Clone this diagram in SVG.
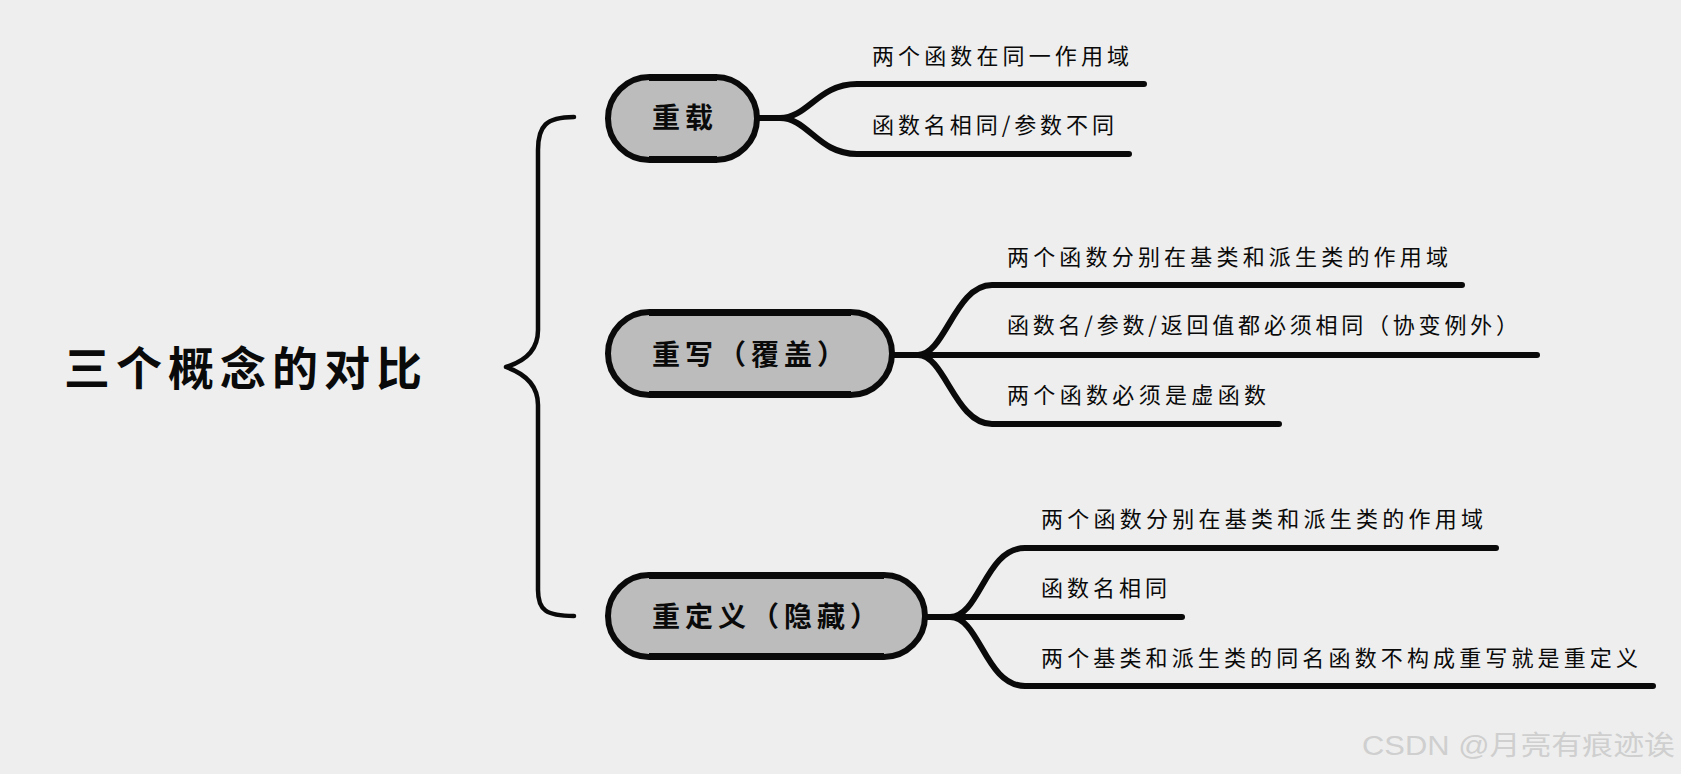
<svg xmlns="http://www.w3.org/2000/svg" width="1681" height="774" viewBox="0 0 1681 774">
  <style>
    .bg { fill: #eeeeee; }
    .node { fill: #bcbcbc; stroke: #0a0a0a; stroke-width: 6; }
    .edge { fill: none; stroke: #0a0a0a; stroke-width: 7; stroke-linecap: butt; }
    .conn { fill: none; stroke: #0a0a0a; stroke-width: 6; stroke-linecap: round; stroke-linejoin: round; }
    .brace { fill: none; stroke: #0a0a0a; stroke-width: 4.5; stroke-linecap: round; stroke-linejoin: round; }
    .title { font-family: "Noto Sans CJK SC", "Noto Sans", sans-serif; font-size: 46px; font-weight: bold; fill: #0a0a0a; letter-spacing: 6px; }
    .ntext { font-family: "Noto Sans CJK SC", "Noto Sans", sans-serif; font-size: 28px; font-weight: bold; fill: #0a0a0a; letter-spacing: 5px; }
    .leaf { font-family: "Noto Sans CJK SC", "Noto Sans", sans-serif; font-size: 22px; fill: #0a0a0a; }
    .wm { font-family: "Liberation Sans", "Noto Sans CJK SC", sans-serif; font-size: 27px; fill: #cfcfcf; }
  </style>
  <rect class="bg" x="0" y="0" width="1681" height="774"/>

  <g id="root">
    <text class="title" x="64" y="385">三个概念的对比</text>
  </g>

  <g id="connectors">
    <path class="brace" d="M 574 117 C 546 117 538 126 538 150 L 538 330 C 538 350 526 361 506 367 C 526 374 538 386 538 405 L 538 590 C 538 610 546 616 574 616"/>
    <!-- node 1 branches -->
    <path class="conn" d="M 759 118 L 780 118 C 808 118 818 84 857 84 L 1144 84"/>
    <path class="conn" d="M 759 118 L 780 118 C 808 118 818 154 857 154 L 1129 154"/>
    <!-- node 2 branches -->
    <path class="conn" d="M 894 355 L 918 355 C 945 355 955 285 992 285 L 1462 285"/>
    <path class="conn" d="M 894 355 L 1537 355"/>
    <path class="conn" d="M 894 355 L 918 355 C 945 355 955 424 992 424 L 1279 424"/>
    <!-- node 3 branches -->
    <path class="conn" d="M 926 617 L 950 617 C 980 617 985 548 1025 548 L 1496 548"/>
    <path class="conn" d="M 926 617 L 1182 617"/>
    <path class="conn" d="M 926 617 L 950 617 C 980 617 985 686 1025 686 L 1653 686"/>
  </g>

  <g id="node-chongzai">
    <rect class="node" x="608" y="77" width="149" height="83" rx="41.5"/>
    <path class="edge" d="M 649 77.5 L 717 77.5 M 649 159.5 L 717 159.5"/>
    <text class="ntext" x="652" y="128">重载</text>
  </g>
  <g id="node-chongxie">
    <rect class="node" x="608" y="312" width="284" height="83" rx="41.5"/>
    <path class="edge" d="M 649 312.5 L 851 312.5 M 649 394.5 L 851 394.5"/>
    <text class="ntext" x="652" y="365">重写（覆盖）</text>
  </g>
  <g id="node-chongdingyi">
    <rect class="node" x="608" y="575" width="317" height="82" rx="41"/>
    <path class="edge" d="M 649 575.5 L 884 575.5 M 649 656.5 L 884 656.5"/>
    <text class="ntext" x="652" y="627">重定义（隐藏）</text>
  </g>

  <g id="leaf-1-1"><text class="leaf" x="872" y="64" textLength="257" lengthAdjust="spacing">两个函数在同一作用域</text></g>
  <g id="leaf-1-2"><text class="leaf" x="872" y="133" textLength="242" lengthAdjust="spacing">函数名相同/参数不同</text></g>
  <g id="leaf-2-1"><text class="leaf" x="1007" y="265" textLength="441" lengthAdjust="spacing">两个函数分别在基类和派生类的作用域</text></g>
  <g id="leaf-2-2"><text class="leaf" x="1007" y="333" textLength="511" lengthAdjust="spacing">函数名/参数/返回值都必须相同（协变例外）</text></g>
  <g id="leaf-2-3"><text class="leaf" x="1007" y="403" textLength="259" lengthAdjust="spacing">两个函数必须是虚函数</text></g>
  <g id="leaf-3-1"><text class="leaf" x="1041" y="527" textLength="442" lengthAdjust="spacing">两个函数分别在基类和派生类的作用域</text></g>
  <g id="leaf-3-2"><text class="leaf" x="1041" y="596" textLength="126" lengthAdjust="spacing">函数名相同</text></g>
  <g id="leaf-3-3"><text class="leaf" x="1041" y="666" textLength="597" lengthAdjust="spacing">两个基类和派生类的同名函数不构成重写就是重定义</text></g>

  <text class="wm" x="1362" y="755" textLength="313" lengthAdjust="spacingAndGlyphs">CSDN @月亮有痕迹诶</text>
</svg>
